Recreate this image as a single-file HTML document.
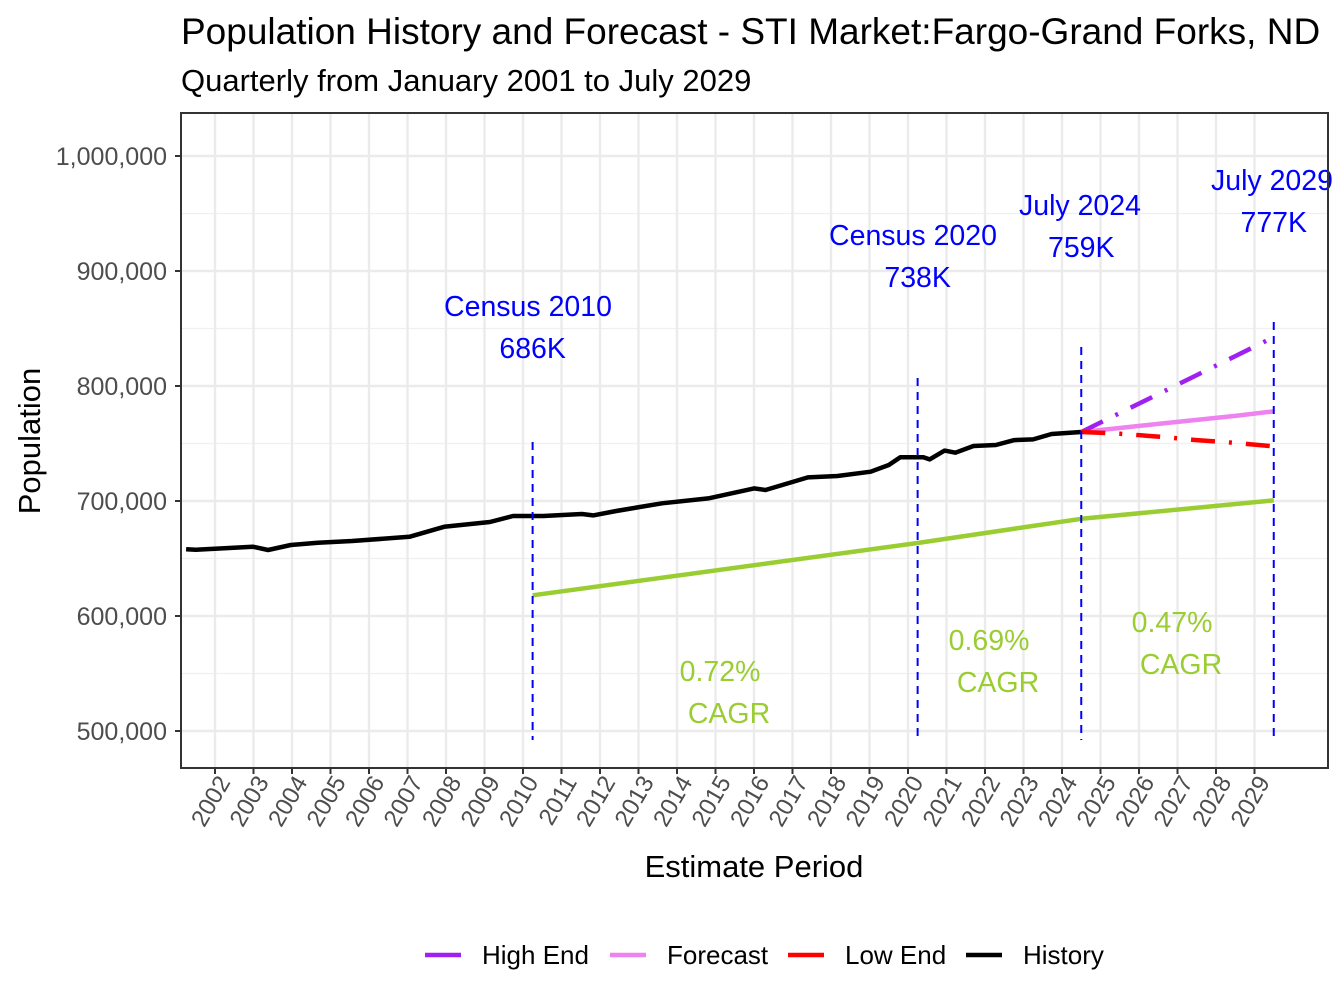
<!DOCTYPE html>
<html><head><meta charset="utf-8"><style>
body{margin:0;background:#fff}
svg{display:block;font-family:"Liberation Sans",Arial,sans-serif}
</style></head><body>
<svg id="chart" width="1344" height="1008" viewBox="0 0 1344 1008">
<text x="181" y="44" font-size="37" fill="#000">Population History and Forecast - STI Market:Fargo-Grand Forks, ND</text>
<text x="181" y="91" font-size="31" fill="#000">Quarterly from January 2001 to July 2029</text>
<g id="grid"></g>
<g id="marks"></g>
<g id="axes"></g>
<text x="754" y="877" font-size="31" text-anchor="middle" fill="#000">Estimate Period</text>
<text transform="translate(40,441) rotate(-90)" font-size="31" text-anchor="middle" fill="#000">Population</text>
<g id="legend"></g>
</svg>
<script>
// ---- data ----
const histT = [2001.25,2001.5,2002.98,2003.38,2003.97,2004.67,2005.56,2007.05,2007.95,2009.14,2009.74,2010.53,2011.53,2011.82,2012.42,2013.61,2014.81,2016.0,2016.3,2017.4,2018.17,2019.03,2019.5,2019.8,2020.4,2020.56,2020.95,2021.23,2021.7,2022.28,2022.76,2023.25,2023.73,2024.5];
const histV = [658.0,657.6,660.3,657.4,661.7,663.7,665.2,668.9,677.6,681.7,687.0,687.0,688.7,687.5,691.3,698.0,702.3,711.0,709.6,720.5,721.7,725.5,731.3,738.0,738.0,736.2,743.8,742.0,747.8,748.7,753.0,753.6,758.3,760.0];
const fcT = [2024.5,2025.5,2026.5,2027.5,2028.5,2029.5];
const forecastV = [760,763.5,767,770.5,774,778];
const highV = [760,776.5,793,809.5,826,842.5];
const lowV = [760,758.5,756,753,750.5,747.5];
const cagrT = [2010.25,2020.25,2024.5,2029.5];
const cagrV = [618,663.5,684.5,700.5];
const yTicks = [500000,600000,700000,800000,900000,1000000];
const yTickLabels = ["500,000","600,000","700,000","800,000","900,000","1,000,000"];
const xYears = [2002,2003,2004,2005,2006,2007,2008,2009,2010,2011,2012,2013,2014,2015,2016,2017,2018,2019,2020,2021,2022,2023,2024,2025,2026,2027,2028,2029];
const events = [
 {t:2010.25, top:442, l1:"Census 2010", l2:"686K", lx:528, ly:316},
 {t:2020.25, top:378, l1:"Census 2020", l2:"738K", lx:913, ly:245},
 {t:2024.5, top:347, l1:"July 2024", l2:"759K", lx:1080, ly:215},
 {t:2029.5, top:322, l1:"July 2029", l2:"777K", lx:1272, ly:190}
];
const cagrLabels = [{p:"0.72%", x:720, y:681},{p:"0.69%", x:989, y:650},{p:"0.47%", x:1172, y:632}];

// ---- scales ----
const X = t => 215 + (t-2002)*38.5;
const Y = v => 731 - (v-500000)*115/100000;
const Yk = v => Y(v*1000);
const NS="http://www.w3.org/2000/svg";
function mk(tag, attrs, parent){const e=document.createElementNS(NS,tag);for(const k in attrs)e.setAttribute(k,attrs[k]);parent.appendChild(e);return e;}
const grid=document.getElementById('grid'), marks=document.getElementById('marks'), axes=document.getElementById('axes'), legend=document.getElementById('legend');
const L=181,R=1328,T=113,B=768;

const bg = mk('rect',{x:L,y:T,width:R-L,height:B-T,fill:'#fff'},grid);


for(let v=450000; v<=1050000; v+=100000){const y=Y(v); if(y>T&&y<B){const g=mk('line',{x1:L,x2:R,y1:y,y2:y,stroke:'#f0f0f0','stroke-width':1.2},grid);

}}
yTicks.forEach((v,i)=>{const y=Y(v);
 const g=mk('line',{x1:L,x2:R,y1:y,y2:y,stroke:'#ebebeb','stroke-width':2.4},grid);
 
 
 const tk=mk('line',{x1:L-6,x2:L,y1:y,y2:y,stroke:'#333','stroke-width':2},axes);
 
 
 const tx=mk('text',{x:L-14,y:y+9,'font-size':25,'text-anchor':'end',fill:'#4d4d4d'},axes);
 tx.textContent=yTickLabels[i];
 
 
});
xYears.forEach(yr=>{const x=X(yr);
 const g=mk('line',{x1:x,x2:x,y1:T,y2:B,stroke:'#ebebeb','stroke-width':2.4},grid);
 
 
 const tk=mk('line',{x1:x,x2:x,y1:B,y2:B+6,stroke:'#333','stroke-width':2},axes);
 
 
 const tx=mk('text',{transform:`translate(${x+16},${B+14}) rotate(-60)`,'font-size':24,'text-anchor':'end',fill:'#4d4d4d'},axes);
 tx.textContent=String(yr);
 
 
});
const border=mk('rect',{x:L,y:T,width:R-L,height:B-T,fill:'none',stroke:'#333','stroke-width':2},axes);



function path(ts,vs,attrs,name){const d=ts.map((t,i)=>(i?'L':'M')+X(t).toFixed(1)+','+Yk(vs[i]).toFixed(1)).join(' ');
 const p=mk('path',Object.assign({d,fill:'none','stroke-linejoin':'round'},attrs),marks);
 
 }
path(cagrT,cagrV,{stroke:'#9acd32','stroke-width':4.5},'cagr-line');
path(histT,histV,{stroke:'#000','stroke-width':4.5},'history-line');
path(fcT,forecastV,{stroke:'#ee82ee','stroke-width':4.5},'forecast-line');
path(fcT,highV,{stroke:'#a020f0','stroke-width':4.5,'stroke-dasharray':'24 14 3 14'},'high-end-line');
path(fcT,lowV,{stroke:'#ff0000','stroke-width':4.5,'stroke-dasharray':'24 14 3 14'},'low-end-line');

events.forEach(e=>{const x=X(e.t);
 const l=mk('line',{x1:x,x2:x,y1:e.top,y2:740,stroke:'#0000ff','stroke-width':2,'stroke-dasharray':'8 6'},marks);
 
 
 const a=mk('text',{x:e.lx,y:e.ly,'font-size':28.5,'text-anchor':'middle',fill:'#0000ff'},marks);
 a.textContent=e.l1;
 
 
 const b=mk('text',{x:x,y:e.ly+42,'font-size':28.5,'text-anchor':'middle',fill:'#0000ff'},marks);
 b.textContent=e.l2;
 
 
});
cagrLabels.forEach(c=>{
 const a=mk('text',{x:c.x,y:c.y,'font-size':28.5,'text-anchor':'middle',fill:'#9acd32'},marks);
 a.textContent=c.p;
 
 
 const b=mk('text',{x:c.x+9,y:c.y+42,'font-size':28.5,'text-anchor':'middle',fill:'#9acd32'},marks);
 b.textContent='CAGR';
 
 
});
const legItems=[["High End","#a020f0",425],["Forecast","#ee82ee",610],["Low End","#ff0000",788],["History","#000",966]];
legItems.forEach(li=>{
 const g=mk('g',{},legend);
 
 
 mk('line',{x1:li[2],x2:li[2]+36,y1:955,y2:955,stroke:li[1],'stroke-width':4.5},g);
 const t=mk('text',{x:li[2]+57,y:964,'font-size':26,fill:'#000'},g);
 t.textContent=li[0];
});
</script>
</body></html>
